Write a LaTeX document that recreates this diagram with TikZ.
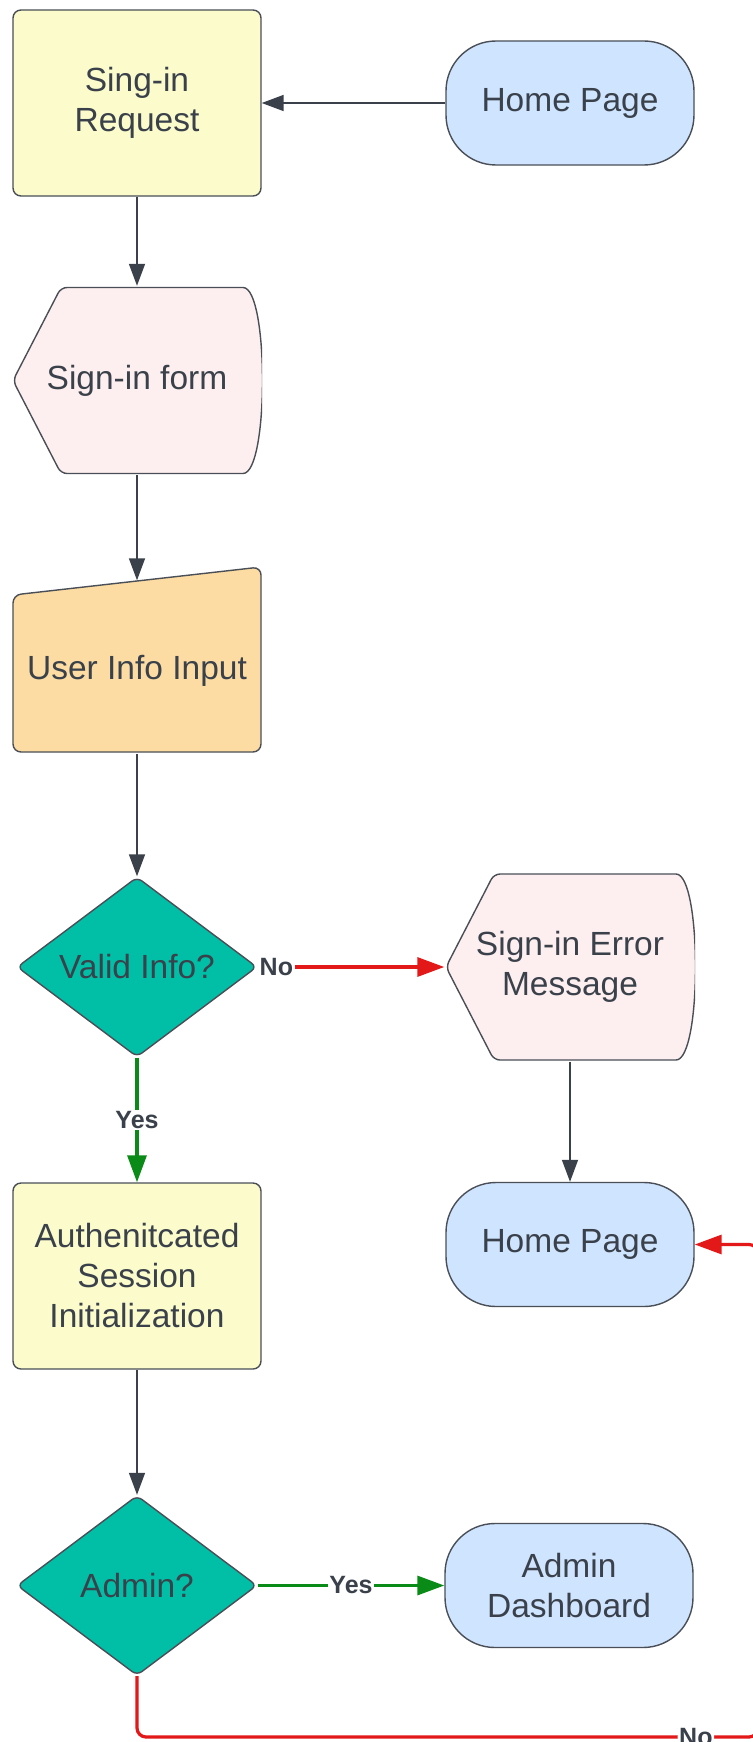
\documentclass[tikz,border=0pt]{standalone}
\usepackage{fontspec}
\setmainfont{Liberation Sans}
\usetikzlibrary{positioning, shapes.geometric, arrows.meta}

\definecolor{procfill}{HTML}{FBFBCB}
\definecolor{termfill}{HTML}{CFE4FF}
\definecolor{dispfill}{HTML}{FDEFEF}
\definecolor{inputfill}{HTML}{FCDCA3}
\definecolor{decfill}{HTML}{00BFA6}
\definecolor{edge}{HTML}{4A4F57}
\definecolor{ink}{HTML}{3A414A}
\definecolor{nored}{HTML}{E31818}
\definecolor{yesgreen}{HTML}{0A8A16}

\newcommand{\ppbb}{path picture bounding box}

\begin{document}
\begin{tikzpicture}[x=1pt, y=-1pt, node distance=100pt, on grid,
  box/.style={draw=edge, line width=1.4pt, text=ink, align=center, inner sep=0pt,
    font=\fontsize{33.5}{40}\selectfont},
  process/.style={box, rectangle, rounded corners=8pt, fill=procfill,
    minimum width=248pt, minimum height=186pt},
  terminal/.style={box, rectangle, rounded corners=50pt, fill=termfill,
    minimum width=248pt, minimum height=124pt},
  decision/.style={box, diamond, aspect=1.33, rounded corners=6pt, fill=decfill,
    minimum width=240pt, minimum height=180pt},
  display/.style={box, draw=none, minimum width=250pt, minimum height=188pt,
    path picture={
      \draw[draw=edge, line width=1.4pt, fill=dispfill, rounded corners=6pt]
        ([xshift=1pt]\ppbb.west)
        -- ([xshift=49pt, yshift=-1pt]\ppbb.north west)
        -- ([xshift=-25pt, yshift=-1pt]\ppbb.north east)
        .. controls ([xshift=7pt, yshift=-1pt]\ppbb.north east)
        and ([xshift=7pt, yshift=1pt]\ppbb.south east)
        .. ([xshift=-25pt, yshift=1pt]\ppbb.south east)
        -- ([xshift=49pt, yshift=1pt]\ppbb.south west) -- cycle;}},
  manual/.style={box, draw=none, minimum width=250pt, minimum height=187pt, text height=47pt,
    path picture={
      \draw[draw=edge, line width=1.4pt, fill=inputfill, rounded corners=8pt]
        ([xshift=1pt, yshift=-29pt]\ppbb.north west)
        -- ([xshift=-1pt, yshift=-1pt]\ppbb.north east)
        -- ([xshift=-1pt, yshift=1pt]\ppbb.south east)
        -- ([xshift=1pt, yshift=1pt]\ppbb.south west) -- cycle;}},
  flow/.style={draw=ink, line width=1.5pt, -{Triangle[length=22pt, width=16pt]}},
  noflow/.style={draw=nored, line width=3.2pt, -{Triangle[length=27pt, width=19pt]}},
  yesflow/.style={draw=yesgreen, line width=3.2pt, -{Triangle[length=27pt, width=19pt]}},
  answer/.style={fill=white, inner sep=1.5pt, text=ink, font=\fontsize{25}{30}\bfseries}]

  \path[use as bounding box, fill=white] (0,0) rectangle (752,1742);

  \node[process] (req) at (137,103) {Sing-in\\Request};
  \node[terminal, right=433pt of req] (home1) {Home Page};
  \node[display, below=277.5pt of req] (form) {Sign-in form};
  \node[manual, below=279pt of form] (inp) {User Info Input};
  \node[decision, below=307.5pt of inp] (valid) {Valid Info?};
  \node[display, right=433pt of valid] (err) {Sign-in Error\\Message};
  \node[process, below=309pt of valid] (auth) {Authenitcated\\Session\\Initialization};
  \node[terminal, below=277.5pt of err] (home2) {Home Page};
  \node[decision, below=309.5pt of auth] (admin) {Admin?};
  \node[terminal, right=432pt of admin] (dash) {Admin\\Dashboard};
  \coordinate (noturn) at (758,1737);

  \path[draw, flow] (home1) to (req);
  \path[draw, flow] (req) to (form);
  \path[draw, flow] (form) to ([yshift=-15pt]inp.north);
  \path[draw, flow] (inp) to (valid);
  \path[draw, noflow] (valid) to node[answer, pos=0.1] {No} (err);
  \path[draw, yesflow] (valid) to node[answer] {Yes} (auth);
  \path[draw, flow] (err) to (home2);
  \path[draw, flow] (auth) to (admin);
  \path[draw, yesflow] (admin) to node[answer] {Yes} (dash);
  \path[draw, noflow, rounded corners=9pt] (admin) |- node[answer, pos=0.95] {No} (noturn) |- (home2);

\end{tikzpicture}
\end{document}
